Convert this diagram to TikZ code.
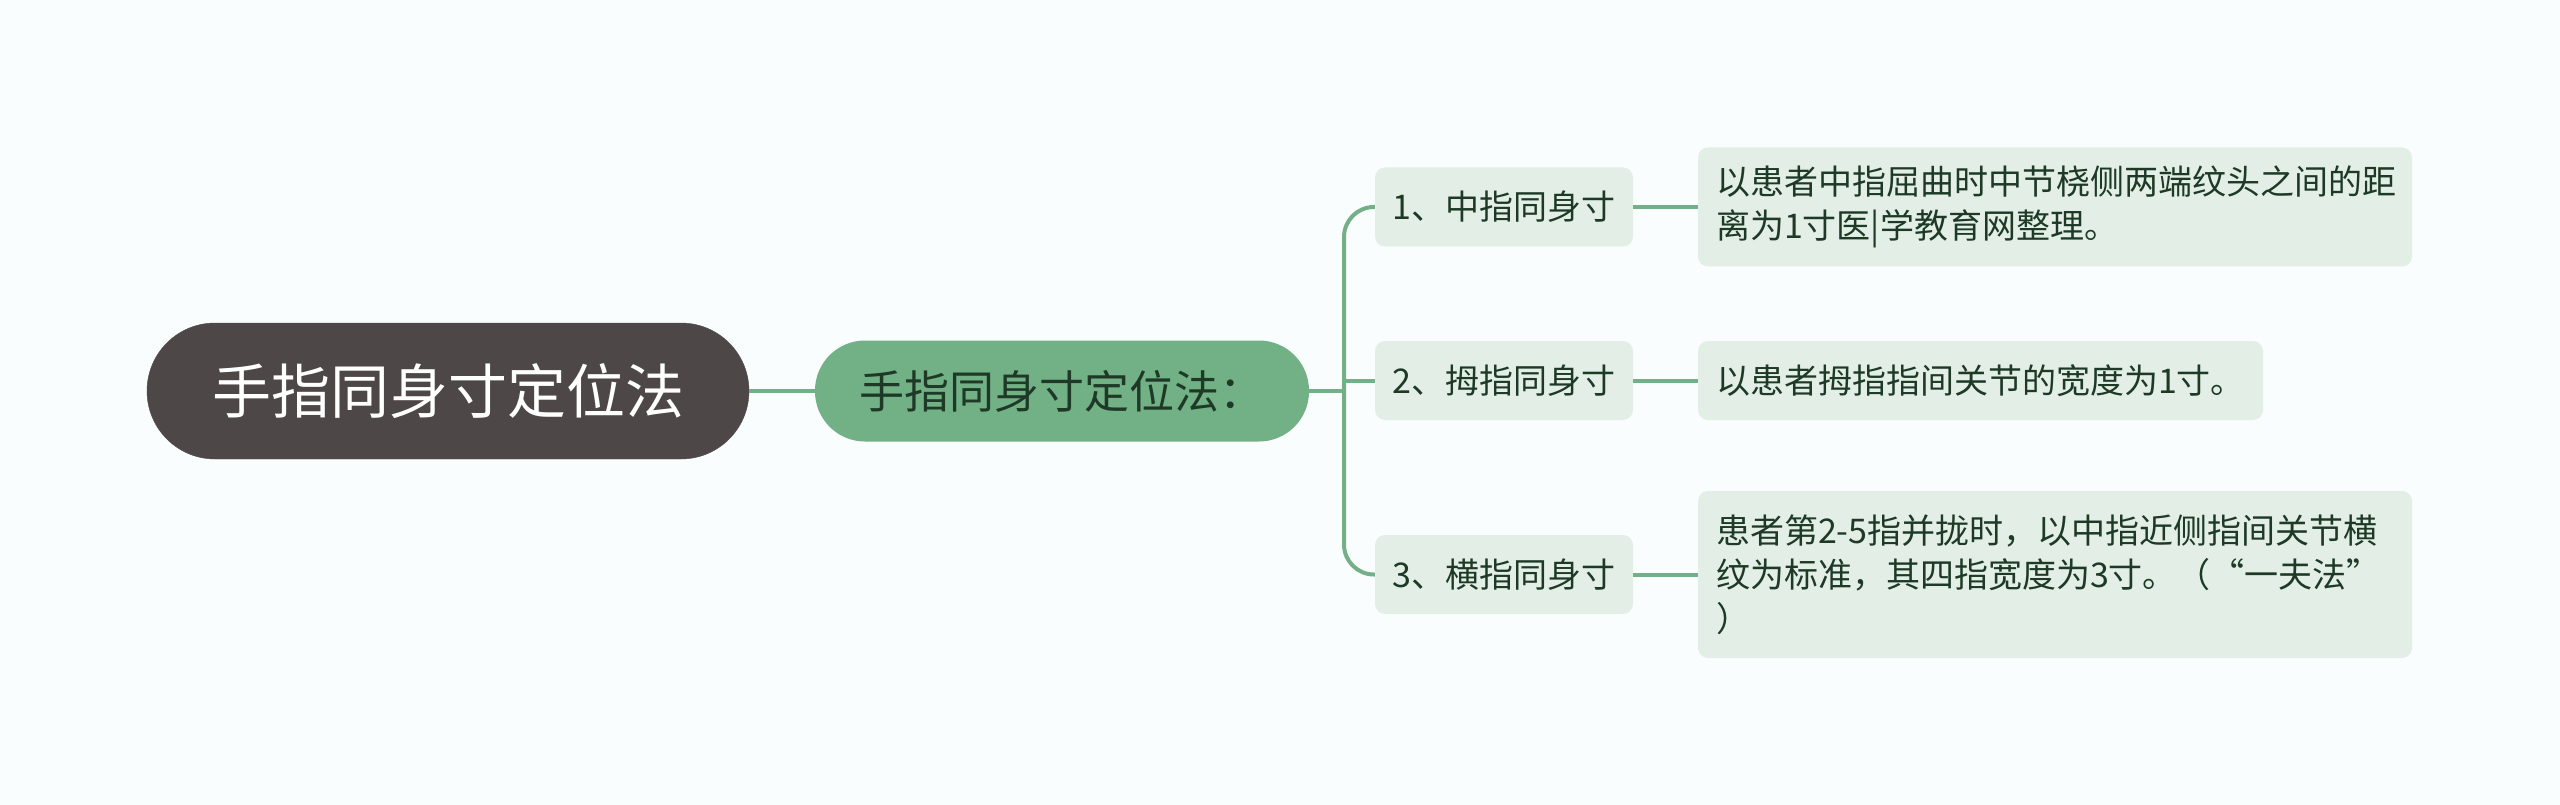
\documentclass[tikz,border=0pt]{standalone}
\usepackage{fontspec}
\newfontfamily\cjk{Noto Sans CJK SC}
\definecolor{bgc}{HTML}{F9FDFD}
\definecolor{rootc}{HTML}{4D4747}
\definecolor{subc}{HTML}{72B086}
\definecolor{lightc}{HTML}{E3EFE6}
\definecolor{linec}{HTML}{75AF88}
\definecolor{txtc}{HTML}{1E3A26}
\tikzset{
  rootbox/.style={draw=rootc, fill=rootc, rounded corners=68pt, minimum width=602pt, minimum height=136pt, inner sep=0pt, text=white, font=\cjk\fontsize{59}{66}\selectfont},
  subbox/.style={fill=subc, rounded corners=50pt, minimum width=494pt, minimum height=101pt, inner sep=0pt, text=txtc, font=\cjk\fontsize{45}{50}\selectfont},
  midbox/.style={fill=lightc, rounded corners=10pt, minimum width=258pt, minimum height=79pt, inner sep=0pt, text=txtc, font=\cjk\fontsize{34}{44}\selectfont},
  leafbox/.style={fill=lightc, rounded corners=10pt, inner xsep=18pt, inner ysep=0pt, align=left, text=txtc, font=\cjk\fontsize{34}{44}\selectfont},
  conn/.style={draw=linec, line width=4pt},
}
\begin{document}
\begin{tikzpicture}[x=1pt,y=-1pt]
\fill[bgc] (0,0) rectangle (2560,805);
\useasboundingbox (0,0) rectangle (2560,805);
\node[rootbox] (root) at (448,391) {手指同身寸定位法};
\node[subbox] (sub) at (1062,391) {手指同身寸定位法：};
\node[midbox] (n1) at (1504,207) {1、中指同身寸};
\node[midbox] (n2) at (1504,380.5) {2、拇指同身寸};
\node[midbox] (n3) at (1504,574.5) {3、横指同身寸};
\node[leafbox, text width=678pt, minimum height=119pt] (l1) at (2055,207) {以患者中指屈曲时中节桡侧两端纹头之间的距\\离为1寸医|学教育网整理。};
\node[leafbox, text width=529pt, minimum height=79pt] (l2) at (1980.5,380.5) {以患者拇指指间关节的宽度为1寸。};
\node[leafbox, text width=678pt, minimum height=167pt] (l3) at (2055,574.5) {患者第2-5指并拢时，以中指近侧指间关节横\\纹为标准，其四指宽度为3寸。（“一夫法”\\）};
\coordinate (b) at (1344,391);
\draw[conn] (root.east) -- (sub.west);
\draw[conn] (sub.east) -- (b);
\draw[conn, rounded corners=30pt] (n1.west) -| (b) |- (n3.west);
\draw[conn] (b |- n2.west) -- (n2.west);
\draw[conn] (n1.east) -- (n1.east -| l1.west);
\draw[conn] (n2.east) -- (n2.east -| l2.west);
\draw[conn] (n3.east) -- (n3.east -| l3.west);
\end{tikzpicture}
\end{document}
